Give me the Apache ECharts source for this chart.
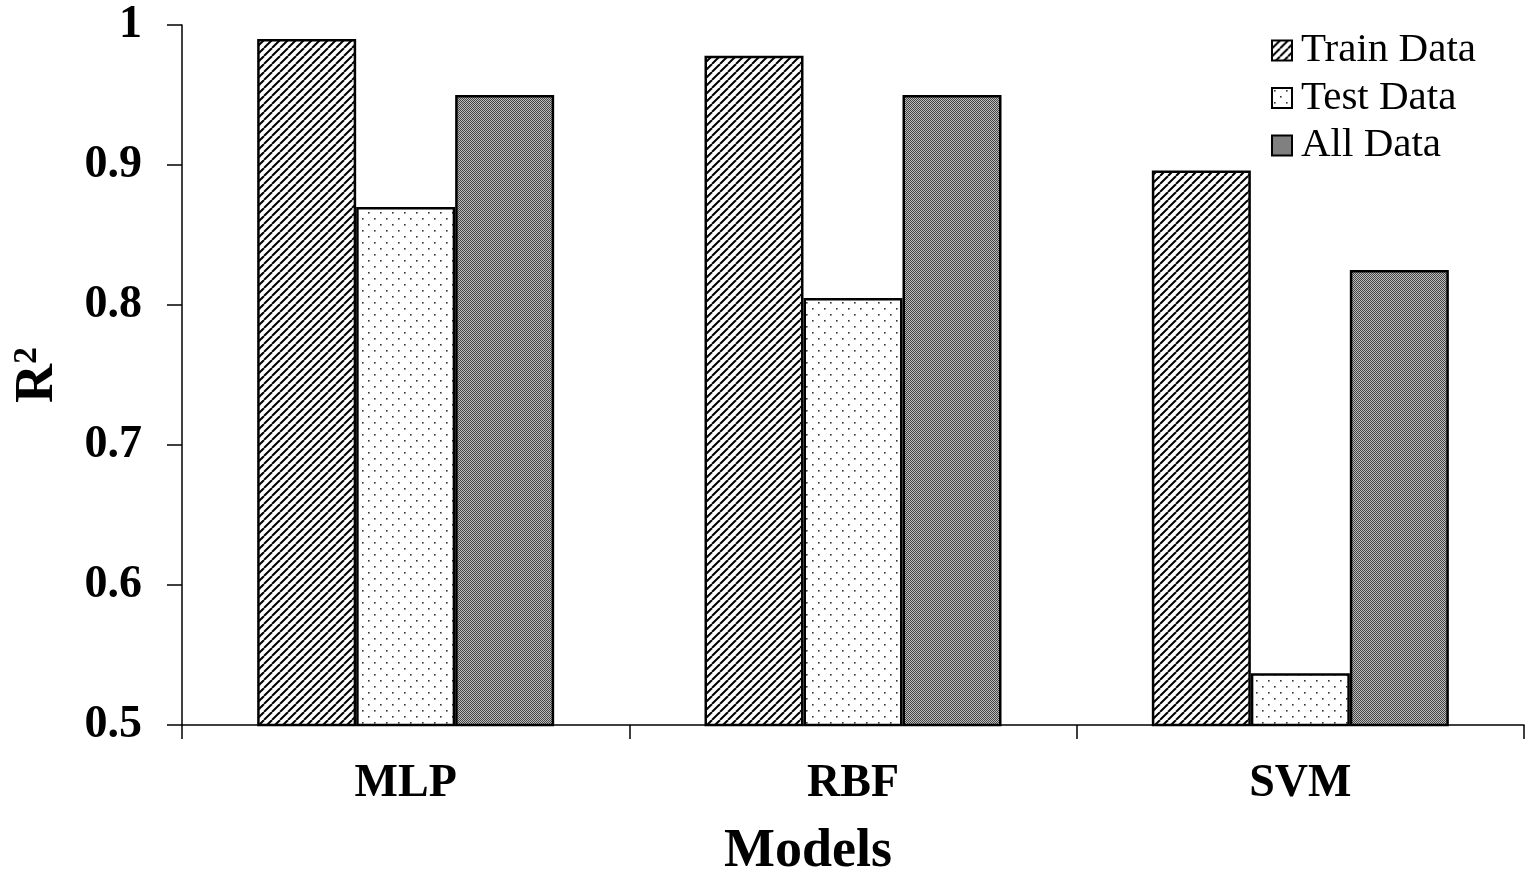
<!DOCTYPE html>
<html>
<head>
<meta charset="utf-8">
<script src="https://cdn.jsdelivr.net/npm/echarts@6/dist/echarts.min.js"></script>
<style>html,body{margin:0;padding:0;background:#fff;}#c{width:1534px;height:884px;}</style>
</head>
<body>
<div id="c"></div>
<script>
const categories = ['MLP', 'RBF', 'SVM'];
const seriesNames = ['Train Data', 'Test Data', 'All Data'];
const trainData = [0.990, 0.978, 0.896];
const testData = [0.870, 0.805, 0.537];
const allData = [0.950, 0.950, 0.825];
const yTicks = [0.5, 0.6, 0.7, 0.8, 0.9, 1];

function hatch() {
  const c = document.createElement('canvas');
  c.width = 8; c.height = 8;
  const g = c.getContext('2d');
  g.fillStyle = '#fff'; g.fillRect(0, 0, 8, 8);
  g.strokeStyle = '#000'; g.lineWidth = 2.0;
  for (const o of [-8, 0, 8]) {
    g.beginPath(); g.moveTo(o, 8); g.lineTo(o + 8, 0); g.stroke();
  }
  return c;
}
function dots() {
  const c = document.createElement('canvas');
  c.width = 12; c.height = 12;
  const g = c.getContext('2d');
  g.fillStyle = '#fff'; g.fillRect(0, 0, 12, 12);
  g.fillStyle = '#333';
  g.fillRect(2, 2, 1.6, 1.6);
  g.fillRect(8, 8, 1.6, 1.6);
  return c;
}
function checker() {
  const c = document.createElement('canvas');
  c.width = 2; c.height = 2;
  const g = c.getContext('2d');
  g.fillStyle = '#bdbdbd'; g.fillRect(0, 0, 2, 2);
  g.fillStyle = '#444'; g.fillRect(0, 0, 1, 1); g.fillRect(1, 1, 1, 1);
  return c;
}
const fills = [hatch(), dots(), checker()];
const values = [trainData, testData, allData];

const chart = echarts.init(document.getElementById('c'));
chart.setOption({
  animation: false,
  backgroundColor: '#fff',
  textStyle: { fontFamily: 'Liberation Serif' },
  grid: { left: 182, right: 10, top: 25, bottom: 159, containLabel: false, outerBoundsMode: 'none' },
  legend: {
    orient: 'vertical', left: 1266, top: 25,
    itemWidth: 20, itemHeight: 20, itemGap: 6.5,
    icon: 'rect',
    textStyle: { fontFamily: 'Liberation Serif', fontSize: 41, color: '#000', padding: [0, 0, 0, 4] },
    data: seriesNames
  },
  xAxis: {
    type: 'category', data: categories,
    axisLine: { lineStyle: { color: '#000', width: 1.5 } },
    axisTick: { show: true, length: 14, lineStyle: { color: '#000', width: 1.5 } },
    axisLabel: { margin: 36, fontSize: 46, fontWeight: 'bold', color: '#000', fontFamily: 'Liberation Serif' },
    name: 'Models', nameLocation: 'middle', nameGap: 100,
    nameTextStyle: { fontSize: 54, fontWeight: 'bold', color: '#000', fontFamily: 'Liberation Serif', padding: [0, 90, 0, 0] }
  },
  yAxis: {
    type: 'value', min: 0.5, max: 1, interval: 0.1,
    axisLine: { show: true, lineStyle: { color: '#000', width: 1.5 } },
    axisTick: { show: true, length: 15, lineStyle: { color: '#000', width: 1.5 } },
    splitLine: { show: false },
    axisLabel: {
      margin: 40, fontSize: 46, fontWeight: 'bold', color: '#000', fontFamily: 'Liberation Serif',
      formatter: v => { const t = yTicks.find(x => Math.abs(x - v) < 1e-9); return t === undefined ? '' : String(t); }
    },
    name: 'R{sup|2}', nameLocation: 'middle', nameGap: 116,
    nameTextStyle: {
      fontSize: 54, fontWeight: 'bold', color: '#000', fontFamily: 'Liberation Serif',
      rich: { sup: { fontSize: 34, fontWeight: 'bold', verticalAlign: 'top', padding: [0, 0, 22, 0], fontFamily: 'Liberation Serif', color: '#000' } }
    }
  },
  series: seriesNames.map((n, i) => ({
    name: n, type: 'bar', data: values[i],
    barWidth: 99, barGap: '0%',
    itemStyle: { color: { image: fills[i], repeat: 'repeat' }, borderColor: '#000', borderWidth: 2.5 }
  }))
});
</script>
</body>
</html>
